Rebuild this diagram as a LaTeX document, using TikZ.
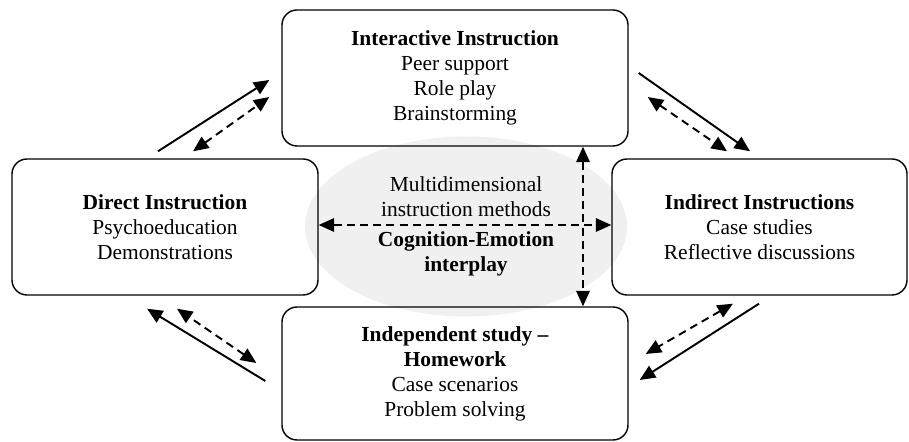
\documentclass[tikz,border=0pt]{standalone}
\usepackage{fontspec}
\setmainfont{Liberation Serif}
\usetikzlibrary{arrows.meta,positioning,calc,shapes.geometric}

\begin{document}
\begin{tikzpicture}[>={Triangle[length=3.1mm,width=2.7mm]},
   font=\fontsize{12.2}{14.2}\selectfont,
   box/.style={draw,line width=0.8pt,rounded corners=3mm,align=center,minimum height=2.72cm,inner sep=0pt},
   solidarrow/.style={->,line width=1.1pt},
   dasharrow/.style={<->,line width=1.1pt,dash pattern=on 4.5pt off 3pt}]
  \useasboundingbox (0,0) rectangle (18.18,8.84);
  \node[ellipse,fill=black!6,minimum width=6.44cm,minimum height=3.6cm,align=center,inner sep=0pt] (core) at (9.32,4.31)
    {Multidimensional\\instruction methods\\[2.5pt]\textbf{Cognition-Emotion}\\\textbf{interplay}};
  \node[box,minimum width=6.92cm] (inter) at (9.10,7.28)
    {\textbf{Interactive Instruction}\\Peer support\\Role play\\Brainstorming};
  \node[box,minimum width=6.12cm] (direct) at (3.30,4.30)
    {\textbf{Direct Instruction}\\Psychoeducation\\Demonstrations};
  \node[box,minimum width=5.90cm] (indirect) at (15.19,4.30)
    {\textbf{Indirect Instructions}\\Case studies\\Reflective discussions};
  \node[box,minimum width=6.92cm,minimum height=2.66cm] (indep) at (9.10,1.37)
    {\textbf{Independent study --}\\\textbf{Homework}\\Case scenarios\\Problem solving};
  % central cross
  \draw[dasharrow] ([yshift=0.04cm]direct.east) -- ([yshift=0.04cm]indirect.west);
  \draw[dasharrow] ([xshift=2.56cm]inter.south) -- ([xshift=2.56cm]indep.north);
  % solid arrows, clockwise
  \draw[solidarrow] ([shift={(-0.14,0.14)}]direct.north) -- ([shift={(-0.24,-0.04)}]inter.west);
  \draw[solidarrow] ([shift={(0.20,0.10)}]inter.east) -- ([shift={(-0.19,0.14)}]indirect.north);
  \draw[solidarrow] ([shift={(-0.01,-0.16)}]indirect.south) -- ([shift={(0.22,-0.13)}]indep.east);
  \draw[solidarrow] ([shift={(-0.32,-0.15)}]indep.west) -- ([shift={(-0.36,-0.26)}]direct.south);
  % dashed arrows, both ways
  \draw[dasharrow] ([shift={(0.56,0.14)}]direct.north) -- ([shift={(-0.24,-0.38)}]inter.west);
  \draw[dasharrow] ([shift={(0.38,-0.38)}]inter.east) -- ([shift={(-0.65,0.14)}]indirect.north);
  \draw[dasharrow] ([shift={(-0.53,-0.16)}]indirect.south) -- ([shift={(0.34,0.39)}]indep.east);
  \draw[dasharrow] ([shift={(-0.50,0.21)}]indep.west) -- ([shift={(0.24,-0.26)}]direct.south);
\end{tikzpicture}
\end{document}
